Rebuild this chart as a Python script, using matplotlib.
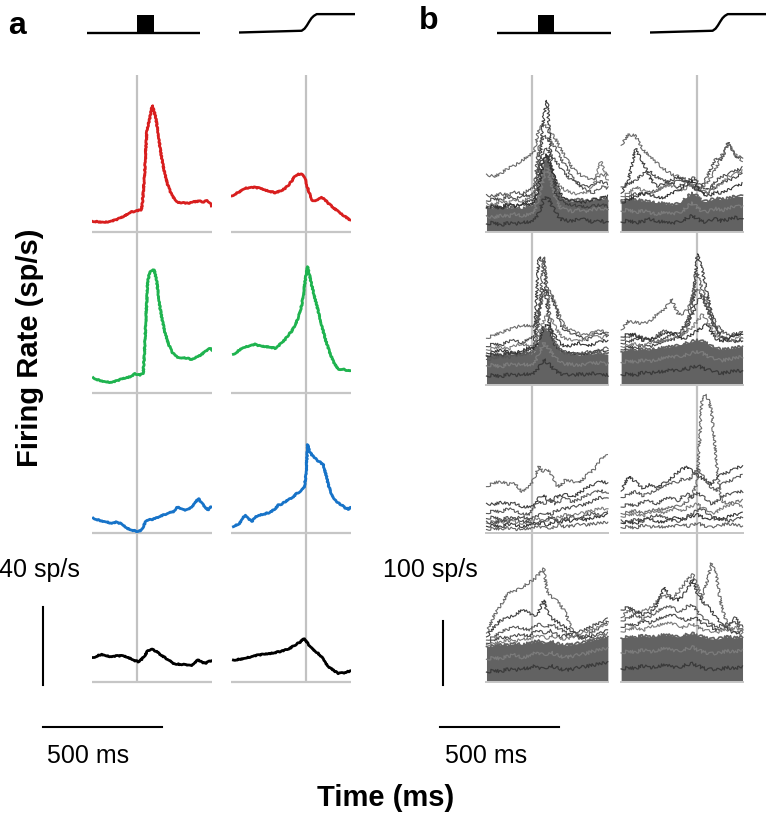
import matplotlib
matplotlib.use("Agg")
import matplotlib.pyplot as plt

W, H = 766, 819
plt.rcParams['font.family'] = ['Liberation Sans', 'DejaVu Sans']

# ---------------- panel a: population means (ms from event, sp/s) ----------------
RED_L_T = [-190, -160, -134, -105, -79, -55, -29, -5, 17, 22, 31, 41, 52, 64, 72, 79, 90, 97, 108, 118,
           132, 146, 160, 174, 195, 216, 240, 265, 280, 293, 305, 314]
RED_L = [5.6, 5.2, 5.0, 5.6, 6.7, 8.0, 10.1, 10.8, 11.3, 14, 27.7, 51.4, 57.4, 64.8, 62, 58.3, 50, 42.9, 35, 29.2,
         23, 19.0, 16.5, 15.2, 15.0, 14.7, 15.5, 15.9, 15.2, 16.4, 15.0, 13.5]
RED_R_T = [-312, -298, -284, -270, -256, -235, -214, -193, -172, -151, -130, -109, -88, -74, -60, -46, -32, -20,
           -11, -4, 3, 14, 24, 35, 45, 55, 66, 80, 94, 115, 136, 160, 185]
RED_R = [18.5, 19.5, 20.3, 21.5, 22.4, 22.8, 22.9, 22.4, 21.5, 20.8, 20.2, 20.9, 22.4, 24.0, 26.2, 28.8, 29.7, 29.6,
         29.2, 27.5, 24.1, 20, 16.4, 16.0, 16.4, 17.0, 17.6, 16.5, 14.7, 12.5, 10.4, 8.2, 6.2]

GREEN_L_T = [-184, -166, -148, -127, -106, -85, -64, -46, -29, -8, 13, 26, 31, 37, 45, 52, 59, 66, 73, 83, 90, 97,
             108, 118, 132, 146, 160, 174, 195, 216, 230, 244, 258, 272, 286, 300, 310, 321]
GREEN_L = [7.6, 6.6, 5.9, 5.4, 5.2, 6.0, 6.9, 7.5, 8.1, 9.6, 9.0, 9.8, 20, 36.3, 56.8, 61, 62.3, 63, 62.8, 56.8, 50,
           43.2, 36, 30.4, 25, 20.9, 19, 17.8, 17.9, 17.5, 16.8, 17.8, 18.5, 19.6, 21, 22.2, 22.8, 20.6]
GREEN_R_T = [-305, -288, -270, -242, -214, -193, -172, -151, -130, -116, -102, -88, -74, -60, -46, -32, -18, -11,
             -4, 1, 7, 15, 24, 38, 52, 66, 80, 98, 115, 129, 143, 160, 175, 192]
GREEN_R = [19.6, 21, 22.7, 23.8, 24.7, 23.8, 23.5, 23.3, 22.7, 23.8, 25.7, 27.2, 29.5, 31.5, 34.6, 38.5, 44.9, 50,
           56.8, 61, 64.5, 60, 55.1, 48, 41.4, 34.5, 27.8, 21, 15.8, 13, 11.5, 11.8, 11.2, 11.0]

BLUE_L_T = [-184, -166, -148, -127, -106, -88, -71, -57, -43, -25, -8, 6, 20, 30, 41, 58, 76, 97, 118, 136, 153,
            164, 174, 188, 202, 216, 230, 244, 258, 268, 279, 290, 300, 310, 321]
BLUE_L = [7.8, 7.0, 6.3, 5.8, 5.1, 5.7, 5.1, 4.0, 2.6, 1.8, 1.2, 1.0, 1.7, 4.5, 6.8, 7.0, 7.6, 8.8, 9.7, 10.5, 11.1,
          12.8, 13.6, 12.3, 11.9, 12.5, 13.6, 15.5, 17.9, 16.0, 14.5, 13.0, 11.9, 13.5, 13.6]
BLUE_R_T = [-305, -295, -284, -270, -256, -242, -228, -210, -193, -172, -151, -133, -116, -102, -88, -70, -53, -39,
            -25, -15, -7, 0, 7, 15, 24, 35, 45, 59, 73, 84, 94, 108, 122, 136, 150, 164, 178, 192]
BLUE_R = [3.4, 4.5, 4.3, 7, 9.4, 7.5, 6.0, 8.5, 9.4, 10, 10.8, 12.2, 14.5, 15.0, 16.2, 17.5, 18.8, 20.5, 21.3, 22.5,
          23.9, 30, 45.5, 42, 40.2, 39, 37.6, 36.5, 35.0, 30, 24.8, 20, 17.1, 15.5, 14.5, 13, 12.4, 13.6]

BLACK_L_T = [-184, -166, -148, -127, -106, -82, -58, -40, -22, -8, 5, 20, 34, 46, 59, 70, 83, 100, 118, 136, 153,
             170, 188, 210, 230, 243, 255, 270, 286, 305, 321]
BLACK_L = [12.4, 13.3, 14.0, 13.2, 12.8, 13.3, 13.2, 12.5, 11.6, 10.8, 10.3, 11.5, 13.7, 16.0, 16.6, 16.3, 15.4,
           13.8, 12.3, 10.8, 9.4, 9.0, 8.9, 8.6, 8.5, 9.8, 11.1, 10.2, 9.4, 10.5, 11.1]
BLACK_R_T = [-305, -280, -256, -228, -200, -172, -144, -116, -88, -67, -46, -27, -7, 8, 24, 41, 59, 76, 94, 115,
             136, 160, 176, 192]
BLACK_R = [11.1, 11.5, 12.0, 12.9, 13.7, 14.1, 14.6, 15.3, 16.2, 17.2, 18.8, 20.2, 22.2, 19.5, 17.1, 15.5, 13.7,
           11.0, 7.7, 5.8, 4.3, 4.6, 5.2, 5.5]

A_COLORS = ['#d81e1e', '#1fb34f', '#1773c8', '#000000']
A_TRACES = [[(RED_L_T, RED_L), (RED_R_T, RED_R)],
            [(GREEN_L_T, GREEN_L), (GREEN_R_T, GREEN_R)],
            [(BLUE_L_T, BLUE_L), (BLUE_R_T, BLUE_R)],
            [(BLACK_L_T, BLACK_L), (BLACK_R_T, BLACK_R)]]

# ---------------- panel b: single neurons (ms from event, sp/s) ----------------
B_T_L = [-190, -160, -130, -100, -70, -40, -10, 10, 30, 50, 65, 80, 100, 120, 140, 170, 200, 230, 260, 290, 320]
B_T_R = [-320, -290, -260, -230, -200, -170, -140, -110, -80, -60, -40, -20, 0, 20, 40, 60, 80, 100, 130, 160, 190]

B1L_ENV = [37, 36, 38, 37, 38, 36, 40, 42, 70, 110, 120, 100, 70, 55, 50, 48, 50, 48, 50, 52, 50]
B1L_IN = [[12, 15, 10, 14, 12, 16, 14, 18, 30, 50, 55, 45, 30, 20, 18, 16, 20, 18, 15, 17, 14],
          [25, 22, 26, 24, 28, 25, 27, 30, 55, 85, 95, 80, 50, 38, 35, 32, 34, 30, 35, 36, 33]]
B1L = [[90, 86, 91, 99, 104, 112, 118, 125, 160, 167, 164, 155, 145, 130, 117, 100, 90, 84, 80, 88, 90],
       [40, 42, 38, 44, 40, 45, 48, 50, 90, 180, 205, 120, 60, 50, 45, 42, 40, 38, 40, 42, 40],
       [58, 55, 60, 57, 62, 60, 65, 70, 130, 150, 145, 140, 130, 115, 105, 85, 70, 65, 60, 70, 68],
       [48, 52, 50, 55, 50, 58, 55, 60, 100, 125, 130, 120, 110, 100, 90, 80, 75, 70, 72, 78, 75],
       [45, 42, 48, 45, 50, 48, 52, 55, 80, 95, 100, 90, 80, 70, 65, 60, 58, 62, 70, 110, 80],
       [38, 40, 36, 42, 40, 44, 42, 45, 70, 110, 120, 100, 80, 60, 50, 48, 45, 47, 50, 52, 55]]
B1R_ENV = [48, 50, 50, 48, 47, 45, 44, 42, 44, 48, 55, 60, 55, 48, 47, 50, 52, 50, 52, 55, 55]
B1R_IN = [[15, 18, 14, 16, 20, 17, 15, 13, 16, 18, 22, 25, 20, 16, 15, 18, 20, 17, 19, 22, 18],
          [32, 35, 30, 33, 30, 28, 30, 28, 30, 33, 40, 45, 38, 32, 30, 34, 36, 33, 36, 40, 38]]
B1R = [[135, 152, 150, 130, 117, 108, 98, 90, 86, 80, 75, 72, 68, 70, 75, 85, 100, 118, 135, 120, 110],
       [60, 80, 130, 110, 85, 70, 75, 80, 85, 80, 75, 70, 65, 60, 60, 65, 70, 75, 80, 85, 90],
       [50, 55, 60, 58, 62, 65, 70, 75, 80, 85, 78, 72, 65, 70, 85, 100, 115, 110, 140, 115, 117],
       [70, 75, 80, 90, 95, 85, 80, 75, 70, 75, 80, 85, 78, 70, 65, 70, 80, 85, 90, 95, 100],
       [55, 60, 70, 65, 60, 65, 70, 72, 68, 65, 70, 75, 70, 65, 60, 65, 70, 75, 85, 90, 95],
       [45, 50, 55, 60, 58, 55, 52, 60, 65, 70, 75, 80, 70, 60, 55, 58, 62, 60, 65, 70, 75]]

B2L_ENV = [46, 48, 47, 49, 48, 50, 48, 50, 70, 90, 85, 75, 60, 52, 50, 48, 47, 48, 49, 50, 48]
B2L_IN = [[14, 16, 13, 17, 15, 18, 16, 18, 28, 40, 35, 30, 22, 18, 16, 15, 17, 16, 18, 15, 16],
          [30, 32, 28, 33, 31, 34, 30, 33, 50, 65, 60, 52, 42, 35, 33, 32, 30, 33, 34, 35, 32]]
B2L = [[73, 78, 82, 86, 90, 94, 92, 90, 120, 140, 148, 145, 125, 105, 90, 85, 80, 78, 82, 85, 80],
       [45, 48, 46, 50, 48, 52, 55, 60, 200, 190, 120, 80, 60, 55, 52, 50, 48, 50, 52, 55, 52],
       [40, 42, 45, 43, 46, 48, 50, 55, 100, 200, 150, 90, 65, 55, 50, 48, 50, 52, 50, 55, 58],
       [60, 65, 62, 68, 70, 66, 72, 75, 110, 150, 145, 140, 120, 95, 85, 80, 75, 70, 78, 82, 76],
       [55, 58, 60, 56, 62, 65, 60, 62, 80, 100, 110, 105, 90, 78, 72, 70, 68, 74, 80, 72, 78],
       [50, 52, 55, 52, 50, 55, 58, 56, 70, 90, 95, 88, 75, 65, 60, 62, 65, 60, 64, 68, 70]]
B2R_ENV = [52, 55, 54, 56, 55, 57, 58, 60, 62, 64, 66, 68, 70, 68, 65, 60, 58, 55, 56, 58, 60]
B2R_IN = [[16, 18, 15, 20, 18, 22, 20, 24, 22, 26, 25, 28, 30, 27, 24, 22, 20, 18, 20, 22, 21],
          [35, 38, 36, 39, 37, 40, 42, 44, 45, 46, 48, 50, 52, 50, 46, 42, 40, 38, 40, 42, 44]]
B2R = [[86, 100, 98, 96, 100, 110, 117, 135, 110, 112, 118, 135, 150, 140, 120, 100, 85, 75, 70, 68, 72],
       [55, 60, 58, 62, 60, 65, 68, 70, 75, 80, 90, 120, 205, 180, 145, 110, 90, 75, 70, 68, 70],
       [70, 75, 80, 72, 70, 78, 85, 80, 75, 85, 100, 140, 175, 150, 130, 110, 95, 85, 78, 80, 82],
       [65, 68, 72, 75, 70, 68, 72, 78, 82, 90, 100, 110, 130, 140, 120, 100, 85, 75, 72, 76, 80],
       [60, 62, 65, 60, 66, 70, 68, 72, 75, 80, 85, 90, 100, 110, 100, 88, 78, 70, 68, 72, 75],
       [75, 80, 78, 70, 72, 75, 80, 82, 78, 72, 75, 80, 85, 90, 95, 82, 72, 68, 70, 80, 78]]

B3L = [[72, 78, 80, 76, 77, 64, 72, 85, 103, 95, 98, 93, 75, 72, 82, 80, 77, 90, 98, 114, 121],
       [46, 44, 48, 45, 46, 41, 40, 42, 55, 60, 52, 48, 55, 58, 60, 55, 62, 70, 75, 80, 78],
       [30, 35, 32, 38, 34, 30, 28, 40, 50, 45, 48, 52, 45, 50, 55, 48, 52, 58, 62, 66, 60],
       [22, 25, 20, 24, 22, 26, 20, 24, 28, 30, 32, 28, 34, 36, 38, 40, 42, 45, 50, 55, 52],
       [15, 18, 16, 20, 17, 15, 18, 20, 22, 18, 20, 24, 22, 25, 28, 26, 30, 32, 35, 38, 36],
       [10, 12, 9, 14, 12, 10, 12, 15, 14, 16, 12, 15, 18, 16, 20, 18, 22, 20, 24, 25, 28],
       [5, 7, 6, 8, 5, 7, 6, 8, 10, 8, 9, 7, 10, 12, 9, 11, 13, 12, 14, 15, 16],
       [18, 14, 20, 17, 22, 19, 16, 12, 15, 20, 22, 25, 20, 18, 22, 25, 20, 28, 30, 26, 32]]
B3R = [[30, 32, 35, 30, 34, 38, 36, 40, 42, 45, 50, 60, 80, 210, 215, 190, 110, 50, 45, 48, 50],
       [65, 88, 80, 70, 75, 70, 78, 85, 95, 100, 103, 95, 90, 85, 80, 75, 85, 90, 95, 100, 105],
       [55, 60, 65, 58, 62, 68, 72, 78, 80, 85, 82, 88, 100, 90, 80, 70, 65, 75, 80, 85, 90],
       [40, 45, 42, 48, 50, 45, 52, 55, 50, 58, 60, 55, 62, 58, 50, 45, 48, 55, 60, 62, 65],
       [25, 28, 30, 26, 32, 35, 30, 36, 38, 34, 40, 42, 45, 40, 35, 30, 32, 38, 42, 45, 40],
       [15, 18, 14, 20, 22, 18, 16, 22, 25, 20, 24, 26, 28, 25, 20, 22, 24, 20, 25, 28, 30],
       [8, 10, 7, 12, 9, 11, 8, 10, 12, 14, 10, 12, 15, 12, 10, 8, 10, 12, 14, 12, 10],
       [20, 16, 22, 18, 25, 28, 24, 20, 18, 22, 26, 30, 35, 38, 30, 25, 20, 22, 18, 20, 24]]

B4L_ENV = [55, 56, 58, 57, 60, 58, 60, 62, 64, 60, 62, 63, 60, 58, 57, 58, 60, 62, 65, 68, 70]
B4L_IN = [[15, 18, 16, 20, 18, 22, 20, 24, 22, 20, 23, 25, 22, 20, 18, 20, 22, 24, 26, 28, 30],
          [35, 38, 36, 40, 42, 38, 40, 44, 45, 42, 44, 46, 42, 40, 38, 40, 42, 44, 48, 50, 52]]
B4L = [[76, 102, 120, 138, 142, 148, 155, 160, 168, 177, 140, 133, 128, 120, 110, 80, 70, 65, 68, 72, 75],
       [70, 85, 96, 100, 105, 112, 108, 102, 110, 128, 110, 100, 95, 90, 85, 78, 70, 68, 72, 76, 80],
       [65, 70, 78, 82, 86, 84, 80, 86, 90, 88, 86, 90, 86, 82, 78, 72, 68, 72, 78, 85, 95],
       [60, 65, 70, 68, 72, 75, 70, 78, 80, 76, 78, 80, 75, 70, 72, 74, 78, 82, 88, 92, 98],
       [58, 60, 62, 65, 63, 68, 66, 70, 72, 70, 68, 72, 70, 68, 66, 70, 74, 78, 82, 86, 90]]
B4R_ENV = [68, 70, 69, 72, 70, 71, 73, 72, 70, 72, 74, 75, 72, 70, 68, 67, 66, 68, 70, 68, 70]
B4R_IN = [[20, 22, 21, 25, 22, 24, 26, 24, 22, 25, 27, 28, 25, 22, 20, 19, 18, 20, 22, 20, 24],
          [45, 48, 46, 50, 47, 49, 52, 50, 48, 50, 52, 54, 50, 47, 45, 44, 43, 46, 48, 46, 50]]
B4R = [[100, 112, 108, 110, 115, 125, 135, 130, 140, 150, 160, 168, 150, 130, 155, 185, 165, 120, 85, 78, 75],
       [112, 117, 110, 105, 108, 120, 148, 130, 128, 135, 145, 160, 135, 125, 120, 110, 100, 90, 80, 76, 78],
       [95, 100, 105, 98, 102, 110, 115, 118, 110, 112, 118, 120, 110, 100, 95, 90, 85, 88, 90, 92, 80],
       [85, 90, 88, 95, 92, 98, 100, 105, 102, 98, 95, 100, 98, 92, 88, 85, 80, 82, 86, 100, 85],
       [78, 82, 85, 80, 86, 88, 90, 92, 88, 85, 88, 90, 86, 82, 80, 78, 76, 80, 82, 84, 80]]

# (envelope of the dense bundle, inner streaks, outlier traces) per row / column
B_CELLS = [[(B1L_ENV, B1L_IN, B1L), (B1R_ENV, B1R_IN, B1R)],
           [(B2L_ENV, B2L_IN, B2L), (B2R_ENV, B2R_IN, B2R)],
           [(None, [], B3L), (None, [], B3R)],
           [(B4L_ENV, B4L_IN, B4L), (B4R_ENV, B4R_IN, B4R)]]
B_GRIDS = [B_T_L, B_T_R]

# scale bars
SCALE_A_RATE, SCALE_B_RATE, SCALE_MS = 40, 100, 500

# stimulus icons (fraction of icon width / height)
PULSE_BOX_A = (0.44, 0.59)
PULSE_BOX_B = (0.36, 0.50)
RAMP_X = [0, 0.54, 0.565, 0.585, 0.605, 0.625, 0.645, 0.67, 1]
RAMP_Y = [0, 0.1, 0.22, 0.4, 0.62, 0.82, 0.95, 1.05, 1.05]

# ---------------- layout (pixels) ----------------
PX_MS = 0.238
A_PX_RATE = 1.95
B_PX_RATE = 0.64
A_COLS = [(92, 212, 137), (231, 351, 306)]
A_BASE = [232, 392.5, 533.3, 681.7]
B_COLS = [(485, 609, 531.7), (620, 744, 697.3)]
B_BASE = [231.7, 385, 532.7, 681.7]
VLINE = '#c2c2c2'
BASELINE = '#c6c6c6'
MASS = '#626262'
IN_COLS = ['#3a3a3a', '#7c7c7c']
B_LINE_COLS = ['#6a6a6a', '#3e3e3e', '#585858', '#4a4a4a', '#7a7a7a', '#333333', '#626262', '#505050']

fig = plt.figure(figsize=(W / 100, H / 100), dpi=100)


def add_ax(x0, x1, ytop, ybot):
    ax = fig.add_axes([x0 / W, 1 - ybot / H, (x1 - x0) / W, (ybot - ytop) / H])
    ax.set_axis_off()
    ax.patch.set_alpha(0)
    return ax


def ftext(x, y, s, **kw):
    fig.text(x / W, 1 - y / H, s, **kw)


# panel a
for col, (x0, x1, ev) in enumerate(A_COLS):
    xl = ((x0 - ev) / PX_MS, (x1 - ev) / PX_MS)
    ov = add_ax(x0, x1, 75, A_BASE[-1])
    ov.set_xlim(*xl)
    ov.axvline(0, color=VLINE, lw=1.6)
    for row, base in enumerate(A_BASE):
        ax = add_ax(x0, x1, base - 150, base + 4)
        ax.set_xlim(*xl)
        ax.set_ylim(-4 / A_PX_RATE, 150 / A_PX_RATE)
        ax.axhline(0, color=BASELINE, lw=1.6)
        t, r = A_TRACES[row][col]
        ln, = ax.plot(t, r, color=A_COLORS[row], lw=2.0, solid_joinstyle='round')
        ln.set_sketch_params(0.5, 2.5, 3)
        if row == 3 and col == 0:
            # scale bars
            ax.plot([-396, -396], [-1.7, -1.7 + SCALE_A_RATE], color='k', lw=1.5, clip_on=False)
            ax.plot([-396, -396 + SCALE_MS], [-23.4, -23.4], color='k', lw=1.5, clip_on=False)

# panel b
for col, (x0, x1, ev) in enumerate(B_COLS):
    xl = ((x0 - ev) / PX_MS, (x1 - ev) / PX_MS)
    ov = add_ax(x0, x1, 75, B_BASE[-1])
    ov.set_xlim(*xl)
    ov.axvline(0, color=VLINE, lw=1.6)
    tg = B_GRIDS[col]
    for row, base in enumerate(B_BASE):
        ax = add_ax(x0, x1, base - 160, base + 3)
        ax.set_xlim(*xl)
        ax.set_ylim(-3 / B_PX_RATE, 160 / B_PX_RATE)
        ax.axhline(0, color=BASELINE, lw=1.4)
        env, inner, traces = B_CELLS[row][col]
        if env is not None:
            ax.fill_between(tg, 0, env, color=MASS, lw=0)
            e, = ax.plot(tg, env, color=MASS, lw=1.2)
            e.set_sketch_params(1.5, 3, 6)
        for i, tr in enumerate(inner):
            ln, = ax.plot(tg, tr, color=IN_COLS[i], lw=0.9)
            ln.set_sketch_params(1.6, 3, 6)
        for i, tr in enumerate(traces):
            ln, = ax.plot(tg, tr, color=B_LINE_COLS[i % len(B_LINE_COLS)], lw=0.8)
            ln.set_sketch_params(1.4, 3, 6)
        if row == 3 and col == 0:
            ax.plot([-373, -373], [-5.2, -5.2 + SCALE_B_RATE], color='k', lw=1.5, clip_on=False)
            ax.plot([-384, -384 + SCALE_MS], [-71, -71], color='k', lw=1.5, clip_on=False)


# stimulus icons
def pulse_icon(x0, x1, box):
    ax = add_ax(x0, x1, 10, 36)
    ax.set_xlim(0, 1)
    ax.set_ylim(-0.2, 1.286)
    ax.plot([0, 1], [0, 0], color='k', lw=1.7, solid_capstyle='butt')
    ax.fill_between(list(box), 0, 1, color='k', lw=0)


def ramp_icon(x0, x1):
    ax = add_ax(x0, x1, 10, 36)
    ax.set_xlim(0, 1)
    ax.set_ylim(-0.2, 1.286)
    ax.plot(RAMP_X, RAMP_Y, color='k', lw=1.7, solid_capstyle='butt', solid_joinstyle='round')


pulse_icon(87, 200, PULSE_BOX_A)
ramp_icon(239, 355)
pulse_icon(497, 611, PULSE_BOX_B)
ramp_icon(650, 766)

# text
ftext(8, 34, 'a', fontsize=23, fontweight='bold', ha='left', va='baseline')
ftext(419, 29, 'b', fontsize=23, fontweight='bold', ha='left', va='baseline')
ftext(30, 348, 'Firing Rate (sp/s)', fontsize=21, fontweight='bold', rotation=90, ha='center', va='center')
ftext(386, 798, 'Time (ms)', fontsize=21, fontweight='bold', ha='center', va='center')
ftext(-1, 577, '40 sp/s', fontsize=18, ha='left', va='baseline')
ftext(47, 763, '500 ms', fontsize=18, ha='left', va='baseline')
ftext(383, 577, '100 sp/s', fontsize=18, ha='left', va='baseline')
ftext(445, 763, '500 ms', fontsize=18, ha='left', va='baseline')

fig.savefig('out.png', dpi=100)
